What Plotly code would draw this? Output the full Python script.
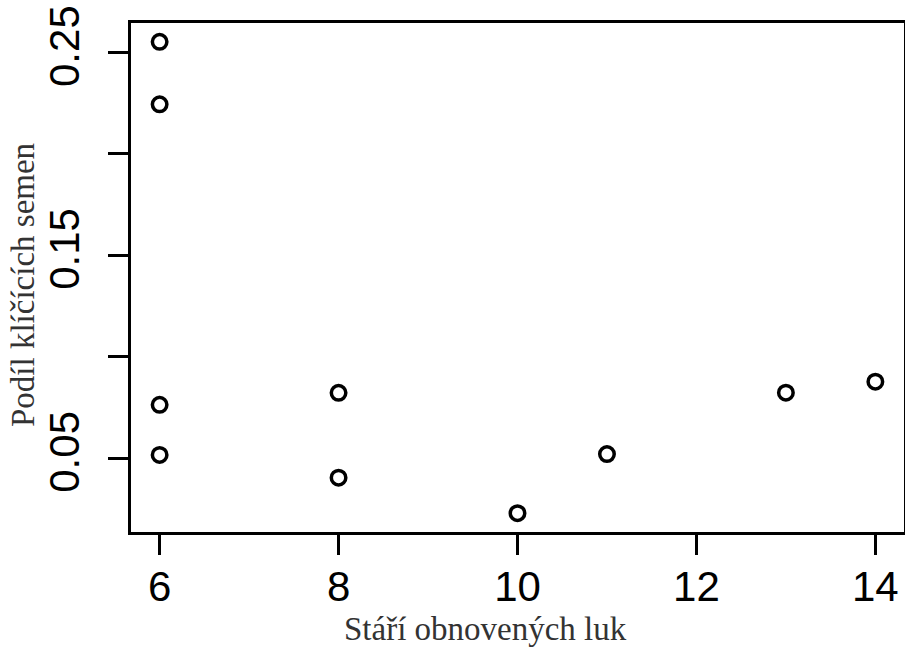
import plotly.graph_objects as go

# Data
stari = [6, 6, 6, 6, 8, 8, 10, 11, 13, 14]
podil = [0.2552, 0.2244, 0.0763, 0.0516, 0.0822, 0.0404, 0.0229, 0.0520, 0.0823, 0.0877]

x_ticks = [6, 8, 10, 12, 14]
y_ticks = [0.05, 0.10, 0.15, 0.20, 0.25]
y_ticktext = ["0.05", "", "0.15", "", "0.25"]

x_title = "Stáří obnovených luk"
y_title = "Podíl klíčících semen"

def r_range(v):
    lo, hi = min(v), max(v)
    d = (hi - lo) * 0.04
    return [lo - d, hi + d]

W, H = 905, 647
L, R, T, B = 131, 1, 23, 115
pw, ph = W - L - R, H - T - B

def px_x(p):
    return (p - L) / pw

def px_y(p):
    return (H - B - p) / ph

fig = go.Figure()
fig.add_trace(go.Scatter(
    x=stari, y=podil, mode="markers",
    marker=dict(symbol="circle-open", size=14.5, color="black",
                line=dict(width=3.5, color="black")),
    showlegend=False, hoverinfo="skip", cliponaxis=False,
))

axis_common = dict(
    showgrid=False, zeroline=False, automargin=False,
    showline=True, linecolor="black", linewidth=3, mirror=True,
    ticks="outside", ticklen=20, tickwidth=3, tickcolor="black",
    tickfont=dict(family="Liberation Sans, Arial", size=42, color="black"),
)

fig.update_layout(
    template="none",
    width=W, height=H,
    margin=dict(l=L, r=R, t=T, b=B, pad=0),
    plot_bgcolor="white", paper_bgcolor="white",
    hovermode=False,
    xaxis=dict(range=r_range(stari), tickmode="array", tickvals=x_ticks,
               ticktext=[str(v) for v in x_ticks], ticklabelstandoff=-4,
               **axis_common),
    yaxis=dict(range=r_range(podil), tickmode="array", tickvals=y_ticks,
               ticktext=y_ticktext, tickangle=-90, ticklabelstandoff=12,
               **axis_common),
    annotations=[
        dict(text=x_title, xref="paper", yref="paper",
             x=px_x(485), y=px_y(629), xanchor="center", yanchor="middle",
             showarrow=False,
             font=dict(family="Liberation Serif, Times New Roman", size=33, color="#333333")),
        dict(text=y_title, xref="paper", yref="paper",
             x=px_x(23), y=px_y(285), xanchor="center", yanchor="middle",
             textangle=-90, showarrow=False,
             font=dict(family="Liberation Serif, Times New Roman", size=33, color="#333333")),
    ],
)

fig.write_html("out.html", config={"displayModeBar": False, "staticPlot": True},
               post_script="document.body.style.margin='0';document.body.style.overflow='hidden';")
